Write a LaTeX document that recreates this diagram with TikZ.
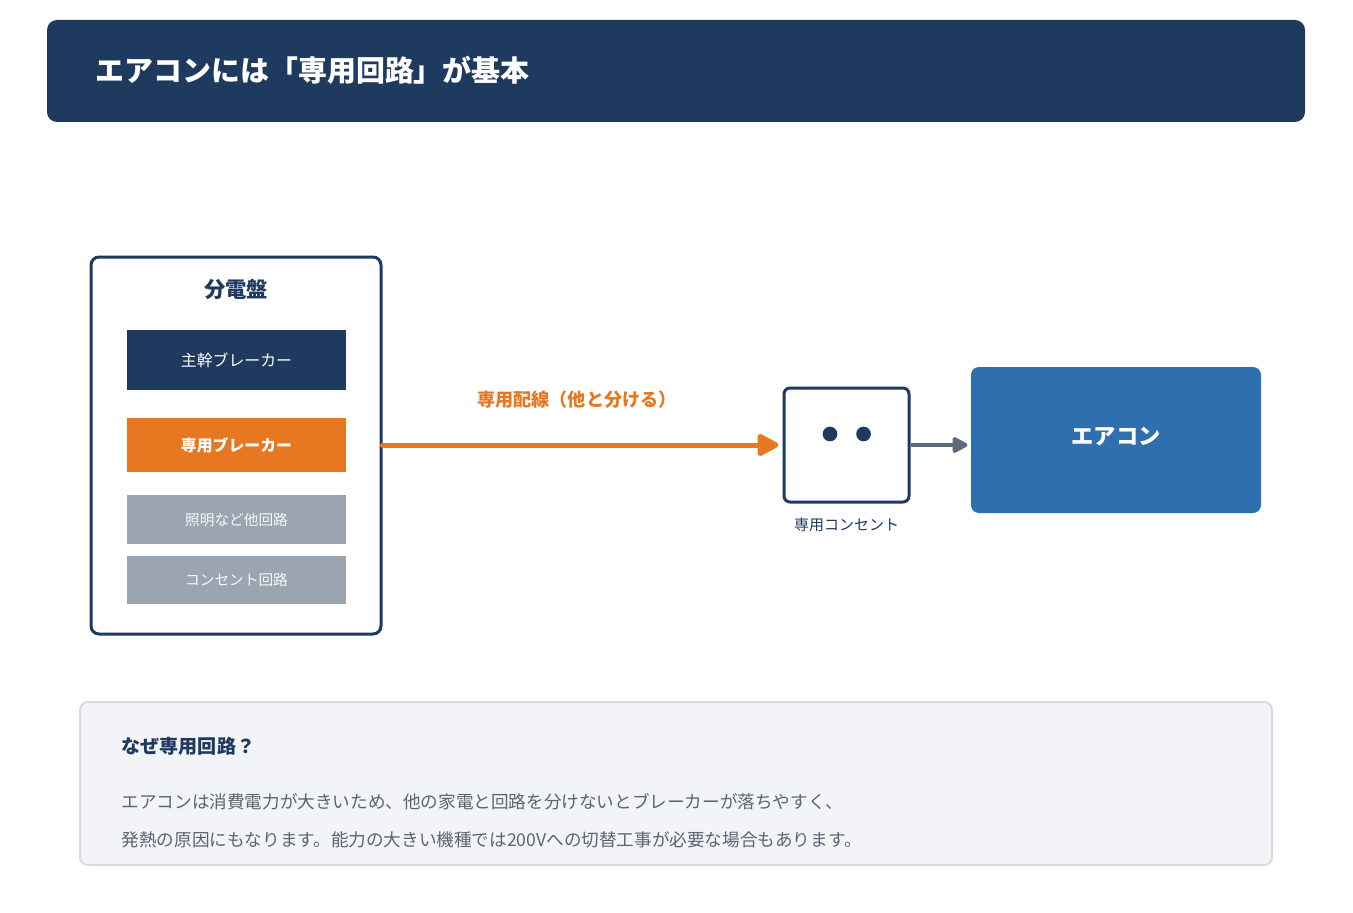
\documentclass[tikz,border=0pt]{standalone}
\usepackage{fontspec}
\setmainfont{Noto Sans CJK JP}
\usepackage{tikz}
\usetikzlibrary{arrows.meta,positioning,calc}
\definecolor{navy}{HTML}{1F3A5F}
\definecolor{hot}{HTML}{E87722}
\definecolor{unit}{HTML}{2E6FB0}
\definecolor{other}{HTML}{9AA5B1}
\definecolor{wire}{HTML}{5F6B7A}
\definecolor{note}{HTML}{F2F4F7}
\definecolor{noteline}{HTML}{D5DBE2}
\definecolor{bodytxt}{HTML}{5A6573}

\begin{document}
\begin{tikzpicture}[x=0.75pt,y=-0.75pt,
  brk/.style={minimum width=164.25pt,inner sep=0pt,font=\fontsize{11.9}{14}\selectfont,text=white},
  feed/.style={-{Triangle[length=18pt,width=18pt,round]},draw=hot,line width=3.75pt,line cap=round,shorten >=3pt},
  tap/.style={-{Triangle[length=13pt,width=13pt,round]},draw=wire,line width=3pt,shorten >=2.5pt}
]
\useasboundingbox[fill=white] (0,0) rectangle (1353,913);
% header
\node[fill=navy,rounded corners=7.5pt,minimum width=943.5pt,minimum height=76.5pt,inner sep=0pt] (head) at (676,71) {};
\node[anchor=west,text=white,font=\fontsize{21.7}{26}\selectfont\bfseries] (title) at (91,70) {エアコンには「専用回路」が基本};
% panel
\node[draw=navy,line width=2.25pt,rounded corners=6pt,minimum width=217.5pt,minimum height=282.75pt,inner sep=0pt] (panel) at (236,445.5) {};
\node[text=navy,font=\fontsize{16}{19}\selectfont\bfseries] (ptitle) at (236,289) {分電盤};
\node[brk,fill=navy,minimum height=45pt] (brk1) at (236.5,360) {主幹ブレーカー};
\node[brk,fill=hot,minimum height=40.5pt,font=\fontsize{11.9}{14}\selectfont\bfseries] (brk2) at (236.5,445) {専用ブレーカー};
\node[brk,fill=other,minimum height=36.75pt,text=white!92!other,font=\fontsize{11}{13}\selectfont] (brk3) at (236.5,519.5) {照明など他回路};
\node[brk,fill=other,minimum height=36pt,text=white!92!other,font=\fontsize{11}{13}\selectfont] (brk4) at (236.5,580) {コンセント回路};
% outlet
\node[draw=navy,fill=white,line width=2.25pt,rounded corners=4.5pt,minimum width=93.75pt,minimum height=85.5pt,inner sep=0pt] (outlet) at (846.5,445) {};
\node[circle,fill=navy,minimum size=11pt,inner sep=0pt] (pinl) at (830,434) {};
\node[circle,fill=navy,minimum size=11pt,inner sep=0pt,right=13.75pt of pinl] (pinr) {};
\node[below=7pt of outlet,text=navy,font=\fontsize{11.25}{13}\selectfont] (olabel) {専用コンセント};
% aircon
\node[fill=unit,rounded corners=6pt,minimum width=217.5pt,minimum height=109.5pt,inner sep=0pt] (ac) at (1116,440) {};
\node[text=white,font=\fontsize{16.7}{20}\selectfont\bfseries] (aclabel) at (1116,437) {エアコン};
% wiring
\draw[feed] (panel.east |- brk2) -- (outlet.west);
\node[text=hot,font=\fontsize{13.6}{16}\selectfont\bfseries] (flabel) at (577,400) {専用配線（他と分ける）};
\draw[tap] (outlet.east) -- (outlet.east -| ac.west);
% note
\node[draw=noteline,fill=note,line width=1.5pt,rounded corners=6pt,minimum width=894pt,minimum height=122.25pt,inner sep=0pt] (notebox) at (676,783.5) {};
\node[anchor=west,text=navy,font=\fontsize{14.3}{17}\selectfont\bfseries] (nhead) at (117,746) {なぜ専用回路？};
\node[anchor=west,text=bodytxt,font=\fontsize{13.2}{16}\selectfont] (nline1) at (117,802) {エアコンは消費電力が大きいため、他の家電と回路を分けないとブレーカーが落ちやすく、};
\node[anchor=west,text=bodytxt,font=\fontsize{13.2}{16}\selectfont] (nline2) at (117,840) {発熱の原因にもなります。能力の大きい機種では200Vへの切替工事が必要な場合もあります。};
\end{tikzpicture}
\end{document}
